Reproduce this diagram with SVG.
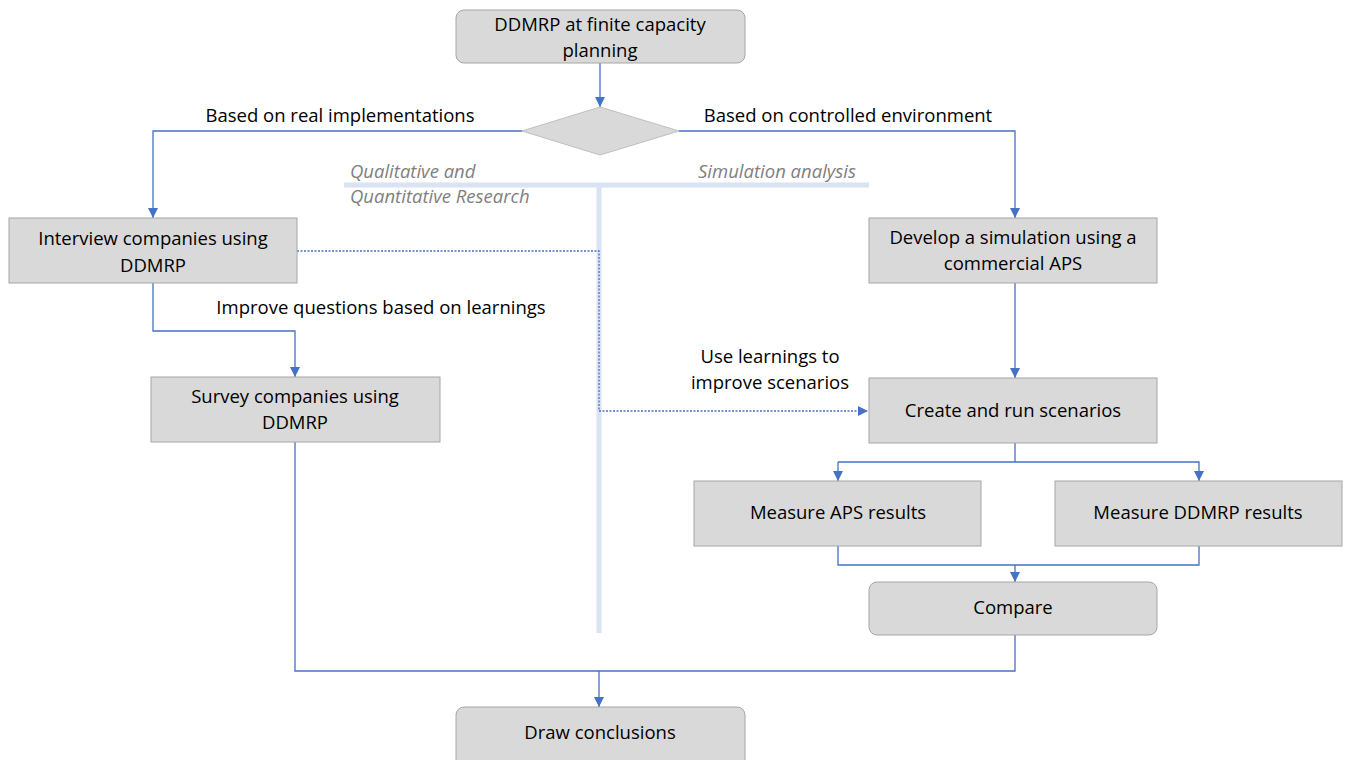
<svg xmlns="http://www.w3.org/2000/svg" width="1345" height="760" viewBox="0 0 1345 760">
<style>
.box{fill:#d9d9d9;stroke:#a6a6a6;stroke-width:1}
.t{font-family:"Open Sans","Liberation Sans",sans-serif;font-size:18.5px;fill:#000;text-anchor:middle}
.lbl{font-family:"Open Sans","Liberation Sans",sans-serif;font-size:18.5px;fill:#000}
.it{font-family:"Open Sans","Liberation Sans",sans-serif;font-size:18.5px;font-style:italic;fill:#7f7f7f}
.c{fill:none;stroke:#4472c4;stroke-width:1.3}
.d{fill:none;stroke:#4472c4;stroke-width:1.3;stroke-dasharray:2 1.5}
.sep{fill:none;stroke:#dae3f3;stroke-width:5}
</style>
<defs>
<marker id="ah" viewBox="0 0 10 10" refX="10" refY="5" markerWidth="10" markerHeight="10" markerUnits="userSpaceOnUse" orient="auto">
<path d="M0,0 L10,5 L0,10 z" fill="#4472c4"/>
</marker>
</defs>
<g id="separator">
<path class="sep" d="M344,185 H869 M599,185 V633"/>
<text class="it" x="350" y="178">Qualitative and</text>
<text class="it" x="350" y="203">Quantitative Research</text>
<text class="it" x="856" y="178" text-anchor="end">Simulation analysis</text>
</g>
<g id="connectors">
<path class="c" d="M600,63 V107" marker-end="url(#ah)"/>
<path class="c" d="M522,131 H153 V218" marker-end="url(#ah)"/>
<path class="c" d="M679,131 H1015 V218" marker-end="url(#ah)"/>
<path class="d" d="M297,251 H599 V411 H868" marker-end="url(#ah)"/>
<path class="c" d="M153,283 V331 H295 V377" marker-end="url(#ah)"/>
<path class="c" d="M1015,283 V378" marker-end="url(#ah)"/>
<path class="c" d="M1015,443 V462"/>
<path class="c" d="M838,462 V481" marker-end="url(#ah)"/>
<path class="c" d="M838,462 H1199 V481" marker-end="url(#ah)"/>
<path class="c" d="M838,546 V565 H1199 V546"/>
<path class="c" d="M1015,565 V582" marker-end="url(#ah)"/>
<path class="c" d="M1015,635 V671 H295 V442"/>
<path class="c" d="M599,671 V707" marker-end="url(#ah)"/>
<text class="lbl" x="340" y="122" text-anchor="middle">Based on real implementations</text>
<text class="lbl" x="848" y="122" text-anchor="middle">Based on controlled environment</text>
<text class="lbl" x="381" y="314" text-anchor="middle">Improve questions based on learnings</text>
<text class="lbl" x="770" y="363" text-anchor="middle">Use learnings to</text>
<text class="lbl" x="770" y="389" text-anchor="middle">improve scenarios</text>
</g>
<g id="start">
<rect class="box" x="456" y="10" width="289" height="53" rx="8"/>
<text class="t" x="600" y="31">DDMRP at finite capacity</text>
<text class="t" x="600" y="57">planning</text>
</g>
<g id="decision">
<polygon class="box" points="600,107 679,131 600,155 522,131" style="stroke:#bfbfbf"/>
</g>
<g id="interview">
<rect class="box" x="9" y="218" width="288" height="65"/>
<text class="t" x="153" y="245">Interview companies using</text>
<text class="t" x="153" y="272">DDMRP</text>
</g>
<g id="survey">
<rect class="box" x="151" y="377" width="289" height="65"/>
<text class="t" x="295" y="403">Survey companies using</text>
<text class="t" x="295" y="429">DDMRP</text>
</g>
<g id="develop">
<rect class="box" x="869" y="218" width="288" height="65"/>
<text class="t" x="1013" y="244">Develop a simulation using a</text>
<text class="t" x="1013" y="270">commercial APS</text>
</g>
<g id="create">
<rect class="box" x="869" y="378" width="288" height="65"/>
<text class="t" x="1013" y="417">Create and run scenarios</text>
</g>
<g id="measure-aps">
<rect class="box" x="694" y="481" width="287" height="65"/>
<text class="t" x="838" y="519">Measure APS results</text>
</g>
<g id="measure-ddmrp">
<rect class="box" x="1055" y="481" width="287" height="65"/>
<text class="t" x="1198" y="519">Measure DDMRP results</text>
</g>
<g id="compare">
<rect class="box" x="869" y="582" width="288" height="53" rx="8"/>
<text class="t" x="1013" y="614">Compare</text>
</g>
<g id="conclusions">
<rect class="box" x="456" y="707" width="289" height="60" rx="8"/>
<text class="t" x="600" y="739">Draw conclusions</text>
</g>
</svg>
